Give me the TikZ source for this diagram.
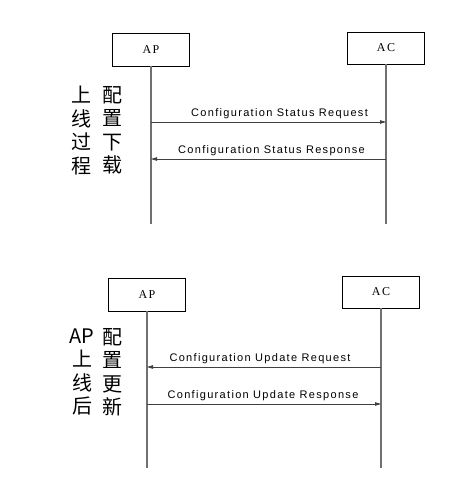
\documentclass[tikz,border=0pt]{standalone}
\usepackage{fontspec}
\usetikzlibrary{arrows.meta,positioning}
\newfontfamily\cjk{Noto Sans CJK SC}
\newfontfamily\msgfont[LetterSpace=12]{Liberation Sans}
\newfontfamily\boxfont[LetterSpace=12]{Liberation Serif}
\definecolor{lifegray}{HTML}{707070}
\definecolor{msggray}{HTML}{404040}
\tikzset{
  entity/.style={
    draw=black,
    line width=0.9pt,
    minimum width=77pt,
    minimum height=33pt,
    inner sep=0pt,
    font=\boxfont\fontsize{12}{14}\selectfont
  },
  lifeline/.style={draw=lifegray, line width=1.1pt},
  msg/.style={-{Triangle[length=6pt,width=3.5pt]}, draw=msggray, line width=0.8pt},
  msglabel/.style={font=\msgfont\fontsize{11}{12}\selectfont, inner sep=1pt},
  phase/.style={font=\cjk\fontsize{20}{23.5}\selectfont, align=center, inner sep=0pt}
}
\begin{document}
\begin{tikzpicture}[x=1pt, y=-1pt]
  \useasboundingbox (0,0) rectangle (467,481);

  % upper chart
  \node[entity] (aptop) at (151,49.5) {AP};
  \node[entity, minimum height=32pt] (actop) at (386,48) {AC};
  \coordinate (aptopend) at (151,224);
  \coordinate (actopend) at (386,224);
  \draw[lifeline] (aptop.south) -- (aptopend);
  \draw[lifeline] (actop.south) -- (actopend);

  \coordinate (reqa) at (151,122);
  \coordinate (reqb) at (386,122);
  \coordinate (resa) at (386,159);
  \coordinate (resb) at (151,159);
  \draw[msg] (reqa) -- (reqb)
    node[msglabel, midway, above=2pt, xshift=11pt] (reqlabel) {Configuration Status Request};
  \draw[msg] (resa) -- (resb)
    node[msglabel, midway, above=2pt, xshift=3pt] (reslabel) {Configuration Status Response};

  \node[phase] (phaseone) at (81,130.5) {上\\线\\过\\程};
  \node[phase] (phasetwo) at (112,130.5) {配\\置\\下\\载};

  % lower chart
  \node[entity] (apbot) at (147,294.5) {AP};
  \node[entity, minimum height=32pt] (acbot) at (381,292) {AC};
  \coordinate (apbotend) at (147,468);
  \coordinate (acbotend) at (381,468);
  \draw[lifeline] (apbot.south) -- (apbotend);
  \draw[lifeline] (acbot.south) -- (acbotend);

  \coordinate (upda) at (381,367);
  \coordinate (updb) at (147,367);
  \coordinate (updra) at (147,404);
  \coordinate (updrb) at (381,404);
  \draw[msg] (upda) -- (updb)
    node[msglabel, midway, above=2pt, xshift=-4pt] (updlabel) {Configuration Update Request};
  \draw[msg] (updra) -- (updrb)
    node[msglabel, midway, above=2pt, xshift=-1pt] (updrlabel) {Configuration Update Response};

  \node[phase] (phasethree) at (82,372) {AP\\上\\线\\后};
  \node[phase] (phasefour) at (112,372) {配\\置\\更\\新};
\end{tikzpicture}
\end{document}
